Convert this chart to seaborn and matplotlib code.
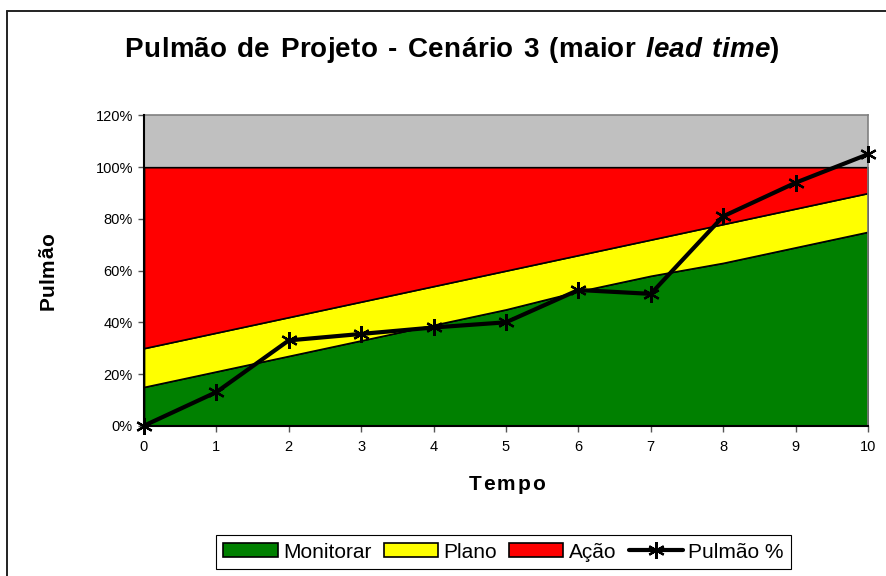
import matplotlib
matplotlib.use("Agg")
import matplotlib.pyplot as plt
from matplotlib.lines import Line2D
from matplotlib.patches import Patch
from matplotlib.ticker import FuncFormatter, MultipleLocator
from matplotlib.font_manager import FontProperties
import seaborn as sns
import pandas as pd

# Series (percent)
tempo = [0, 1, 2, 3, 4, 5, 6, 7, 8, 9, 10]
monitorar = [15, 21, 27, 33, 39, 45, 52, 58, 63, 69, 75]
plano = [15, 15, 15, 15, 15, 15, 14, 14, 15, 15, 15]
acao = [70, 64, 58, 52, 46, 40, 34, 28, 22, 16, 10]
pulmao = [0, 13, 33, 35.5, 38, 40, 52.5, 51, 81, 94, 105]

series_names = ["Monitorar", "Plano", "Ação"]
series_colors = ["#008000", "#FFFF00", "#FF0000"]
line_name = "Pulmão %"

title_parts = [("Pulmão de Projeto - Cenário 3 (maior ", "normal"),
               ("lead time", "italic"), (")", "normal")]
x_label = "Tempo"
y_label = "Pulmão"

W, H, DPI = 887, 576, 100
FAMILY = "Liberation Sans"

sns.set_theme(style="white")
plt.rcParams["font.family"] = [FAMILY, "DejaVu Sans"]
plt.rcParams["text.color"] = "black"
plt.rcParams["axes.labelcolor"] = "black"
plt.rcParams["xtick.color"] = "black"
plt.rcParams["ytick.color"] = "black"

fig = plt.figure(figsize=(W / DPI, H / DPI), dpi=DPI)
fig.patch.set_facecolor("white")
ax = fig.add_axes([144 / W, 1 - 425.7 / H, (868 - 144) / W, (425.7 - 115.5) / H])
ax.set_facecolor("#C0C0C0")

df = pd.DataFrame({"Tempo": tempo, "Monitorar": monitorar, "Plano": plano,
                   "Ação": acao, "Pulmão": pulmao})

# stacked bands
lower = [0.0] * len(tempo)
for name, color in zip(series_names, series_colors):
    upper = [l + v for l, v in zip(lower, df[name])]
    ax.fill_between(df["Tempo"], lower, upper, facecolor=color,
                    edgecolor="black", linewidth=1.2, zorder=2)
    lower = upper

MARKER = (6, 2, 0)
sns.lineplot(data=df, x="Tempo", y="Pulmão", ax=ax, color="black",
             linewidth=3.0, marker=MARKER, markersize=12,
             markeredgewidth=1.6, markeredgecolor="black",
             clip_on=False, zorder=5, legend=False)

ax.set_xlim(0, 10)
ax.set_ylim(0, 120)
ax.xaxis.set_major_locator(MultipleLocator(1))
ax.yaxis.set_major_locator(MultipleLocator(20))
ax.yaxis.set_major_formatter(FuncFormatter(lambda v, p: f"{v:.0f}%"))
ax.tick_params(axis="both", which="major", direction="out", length=4,
               width=1, color="#555555", labelsize=10.5, labelcolor="black",
               bottom=True, left=True, pad=4)
ax.tick_params(axis="x", pad=6)
for side in ["top", "right"]:
    ax.spines[side].set_color("#808080")
    ax.spines[side].set_linewidth(1.2)
for side in ["left", "bottom"]:
    ax.spines[side].set_color("black")
    ax.spines[side].set_linewidth(1.5)
    ax.spines[side].set_zorder(6)
ax.set_xlabel("")
ax.set_ylabel("")

renderer = fig.canvas.get_renderer()


def advance(ch, size, weight, style):
    prop = FontProperties(family=FAMILY, weight=weight, style=style, size=size)
    w_pair = renderer.get_text_width_height_descent("||", prop, ismath=False)[0]
    w_with = renderer.get_text_width_height_descent("|" + ch + "|", prop,
                                                    ismath=False)[0]
    return w_with - w_pair


def spaced_text(cx, cy, parts, size, span, tracking=0.0, weight="bold",
                vertical=False):
    """Draw text centred at pixel (cx, cy) with letter tracking; word
    spaces absorb whatever is left to reach the total span."""
    chars = [(c, st) for s, st in parts for c in s]
    adv = [advance(c, size, weight, st) for c, st in chars]
    n_gaps = max(len(chars) - 1, 1)
    n_spaces = sum(1 for c, _ in chars if c == " ")
    rest = span - sum(adv) - tracking * n_gaps
    if n_spaces:
        word_extra = rest / n_spaces
    else:
        tracking += rest / n_gaps
        word_extra = 0.0
    pos = -span / 2
    for (c, st), a in zip(chars, adv):
        if c != " ":
            if vertical:
                fig.text(cx / W, 1 - (cy - pos) / H, c, rotation=90,
                         rotation_mode="anchor", ha="left", va="baseline",
                         fontsize=size, fontweight=weight, fontstyle=st)
            else:
                fig.text((cx + pos) / W, 1 - cy / H, c, ha="left",
                         va="baseline", fontsize=size, fontweight=weight,
                         fontstyle=st)
        pos += a + tracking + (word_extra if c == " " else 0.0)


spaced_text(452, 57, title_parts, 20, 655, tracking=0.3)
spaced_text(507, 490, [(x_label, "normal")], 15, 76)
spaced_text(54, 272, [(y_label, "normal")], 15, 77, vertical=True)

# legend
handles = [Patch(facecolor=c, edgecolor="black", linewidth=1.2)
           for c in series_colors]
handles.append(Line2D([0], [0], color="black", linewidth=3.0,
                      marker=MARKER, markersize=12, markeredgewidth=1.6))
leg = fig.legend(handles, series_names + [line_name], loc="center",
                 bbox_to_anchor=(503.5 / W, 1 - 552 / H), ncol=4,
                 fontsize=15, frameon=True, fancybox=False, framealpha=1,
                 edgecolor="black", handlelength=2.6, handleheight=0.65,
                 handletextpad=0.25, columnspacing=0.6, borderpad=0.35)
leg.get_frame().set_linewidth(0.8)

# outer chart border
fig.add_artist(Line2D([7 / W, 7 / W], [0, 1 - 11 / H],
                      color="#222222", linewidth=1.4))
fig.add_artist(Line2D([7 / W, 1], [1 - 11 / H, 1 - 11 / H],
                      color="#222222", linewidth=1.4))

fig.savefig("out.png", dpi=DPI, facecolor="white")
